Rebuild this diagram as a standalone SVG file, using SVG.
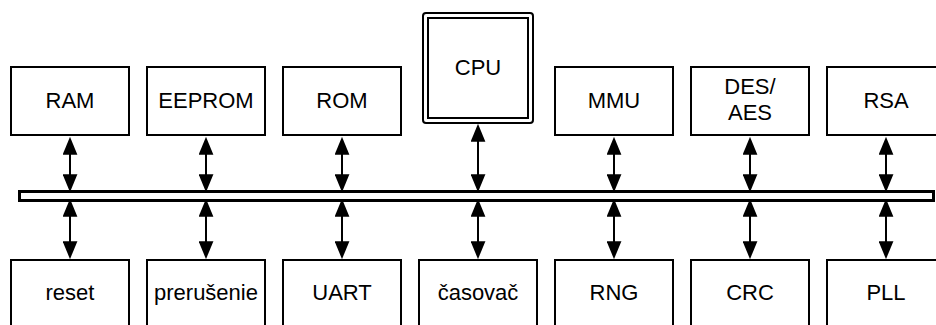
<svg xmlns="http://www.w3.org/2000/svg" width="936" height="325" viewBox="0 0 936 325">
  <style>
    .box { fill: #fff; stroke: #000; stroke-width: 2; }
    .lbl { font-family: "Liberation Sans", Arial, Helvetica, sans-serif; font-size: 22px; fill: #000; text-anchor: middle; }
    .link { stroke: #000; stroke-width: 2; fill: none; marker-start: url(#head); marker-end: url(#head); }
    .bus { fill: #fff; stroke: #000; stroke-width: 3; }
  </style>
  <defs>
    <marker id="head" markerUnits="userSpaceOnUse" markerWidth="18" markerHeight="15" refX="14" refY="7" orient="auto-start-reverse" viewBox="0 0 17 14">
      <path d="M0,0 L17,7 L0,14 Z" fill="#000"/>
    </marker>
  </defs>
  <rect width="936" height="325" fill="#fff"/>

  <!-- system bus -->
  <g id="bus">
    <rect class="bus" x="19.5" y="191.5" width="914" height="9"/>
  </g>

  <!-- upper row -->
  <g id="ram"><rect class="box" x="11" y="67" width="118" height="68"/><text class="lbl" x="70" y="108">RAM</text></g>
  <g id="eeprom"><rect class="box" x="147" y="67" width="118" height="68"/><text class="lbl" x="206" y="108">EEPROM</text></g>
  <g id="rom"><rect class="box" x="283" y="67" width="118" height="68"/><text class="lbl" x="342" y="108">ROM</text></g>
  <g id="cpu">
    <rect class="box" x="423" y="13" width="110" height="110" rx="3"/>
    <rect class="box" x="428" y="18" width="100" height="100"/>
    <text class="lbl" x="478" y="75">CPU</text>
  </g>
  <g id="mmu"><rect class="box" x="555" y="67" width="118" height="68"/><text class="lbl" x="614" y="108">MMU</text></g>
  <g id="desaes"><rect class="box" x="691" y="67" width="118" height="68"/><text class="lbl" x="750" y="94">DES/</text><text class="lbl" x="750" y="120">AES</text></g>
  <g id="rsa"><rect class="box" x="827" y="67" width="118" height="68"/><text class="lbl" x="886" y="108">RSA</text></g>

  <!-- lower row -->
  <g id="reset"><rect class="box" x="11" y="260" width="118" height="80"/><text class="lbl" x="70" y="300">reset</text></g>
  <g id="preruseni"><rect class="box" x="147" y="260" width="118" height="80"/><text class="lbl" x="206" y="300">prerušenie</text></g>
  <g id="uart"><rect class="box" x="283" y="260" width="118" height="80"/><text class="lbl" x="342" y="300">UART</text></g>
  <g id="casovac"><rect class="box" x="419" y="260" width="118" height="80"/><text class="lbl" x="478" y="300">časovač</text></g>
  <g id="rng"><rect class="box" x="555" y="260" width="118" height="80"/><text class="lbl" x="614" y="300">RNG</text></g>
  <g id="crc"><rect class="box" x="691" y="260" width="118" height="80"/><text class="lbl" x="750" y="300">CRC</text></g>
  <g id="pll"><rect class="box" x="827" y="260" width="118" height="80"/><text class="lbl" x="886" y="300">PLL</text></g>

  <!-- bidirectional links to the bus -->
  <g id="connectors">
    <line class="link" x1="70" y1="140" x2="70" y2="189"/>
    <line class="link" x1="206" y1="140" x2="206" y2="189"/>
    <line class="link" x1="342" y1="140" x2="342" y2="189"/>
    <line class="link" x1="478" y1="127" x2="478" y2="189"/>
    <line class="link" x1="614" y1="140" x2="614" y2="189"/>
    <line class="link" x1="750" y1="140" x2="750" y2="189"/>
    <line class="link" x1="886" y1="140" x2="886" y2="189"/>

    <line class="link" x1="70" y1="202" x2="70" y2="256"/>
    <line class="link" x1="206" y1="202" x2="206" y2="256"/>
    <line class="link" x1="342" y1="202" x2="342" y2="256"/>
    <line class="link" x1="478" y1="202" x2="478" y2="256"/>
    <line class="link" x1="614" y1="202" x2="614" y2="256"/>
    <line class="link" x1="750" y1="202" x2="750" y2="256"/>
    <line class="link" x1="886" y1="202" x2="886" y2="256"/>
  </g>
</svg>
